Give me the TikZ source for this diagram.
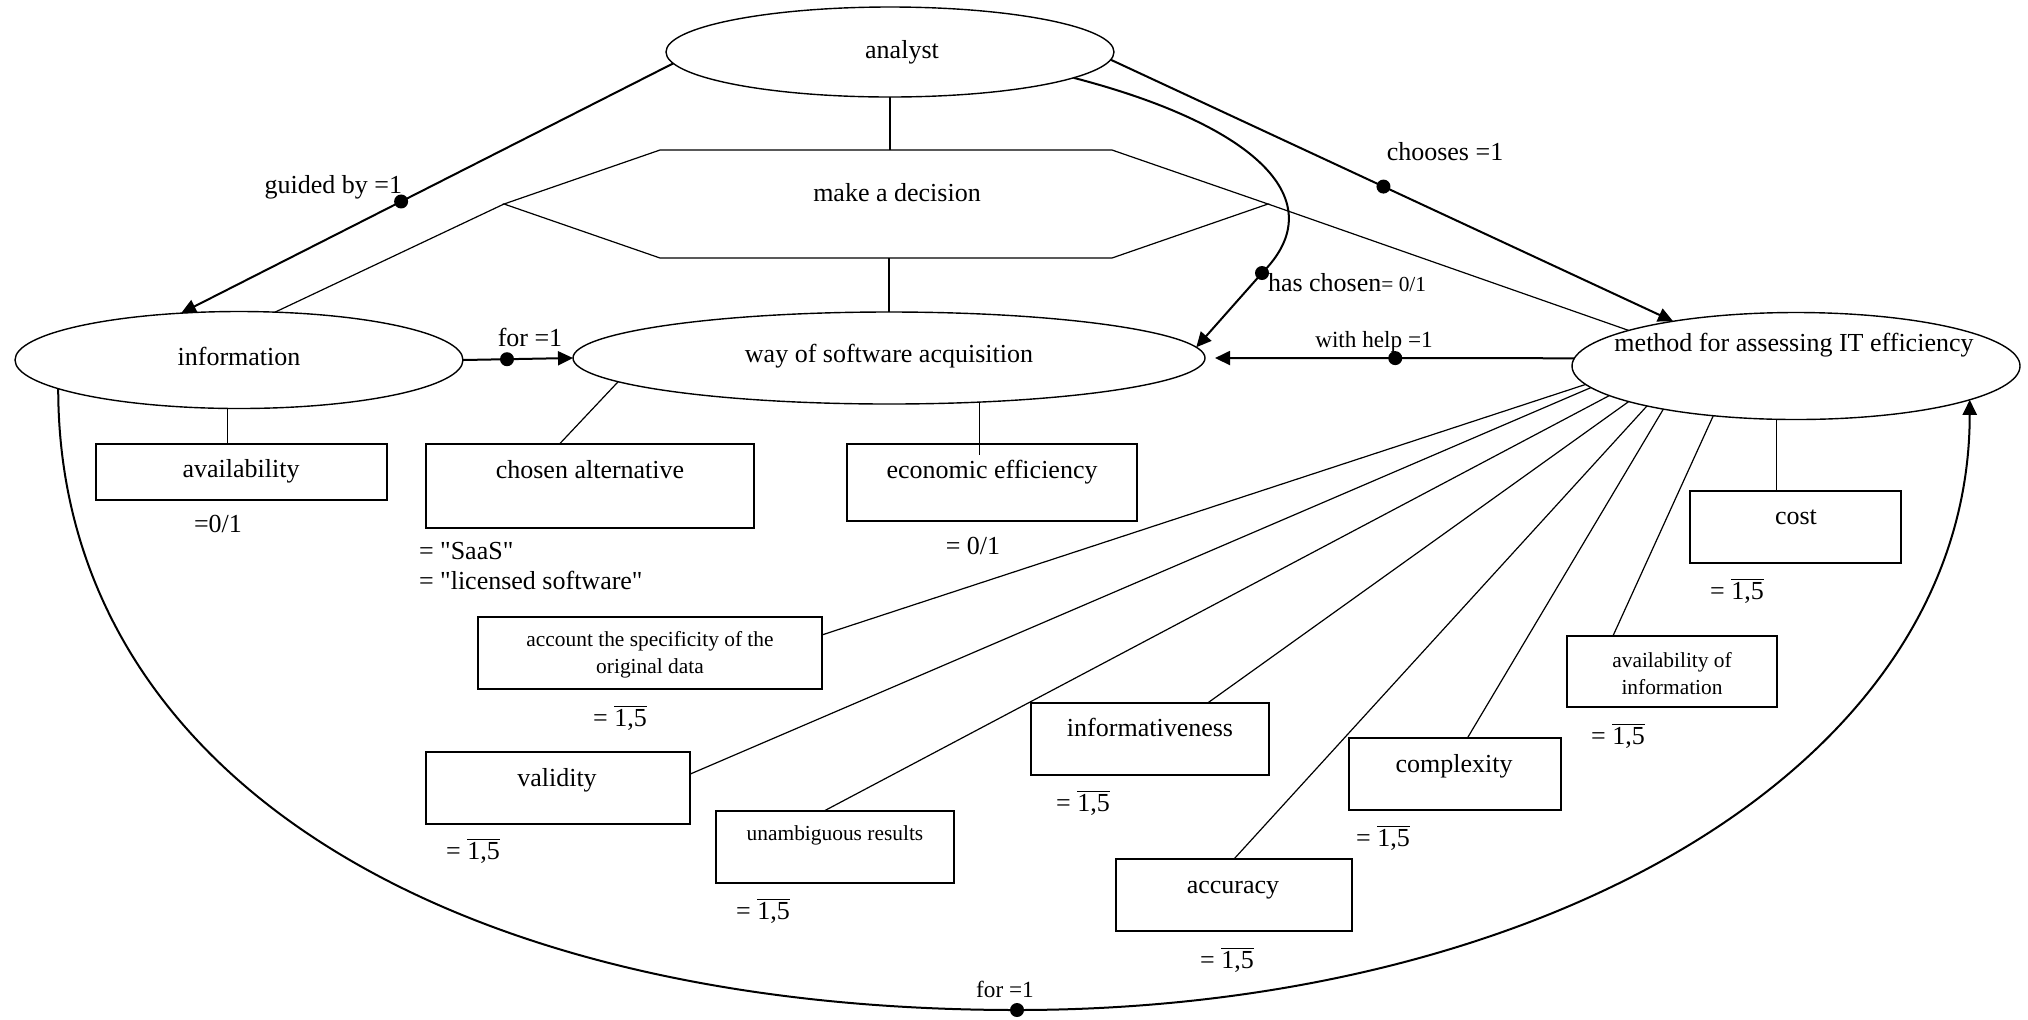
\documentclass[tikz,border=0pt]{standalone}
\usepackage{fontspec}
\setmainfont{Liberation Serif}[Ligatures=TeXOff]
\usetikzlibrary{arrows.meta,shapes.geometric}
\newcommand\onefive{= $\overline{\mbox{1,5}}$}
\begin{document}
\begin{tikzpicture}[x=0.5pt,y=-0.5pt,
  every node/.style={inner sep=0pt, outer sep=0pt},
  ell/.style={draw, line width=0.7pt, ellipse},
  rbox/.style={draw, line width=0.7pt, rectangle},
  txt/.style={font=\fontsize{13}{15}\selectfont, text height=9pt, text depth=3pt},
  stxt/.style={font=\fontsize{10.7}{13.5}\selectfont, align=center},
  mtxt/.style={font=\fontsize{11.6}{14}\selectfont, text height=8pt, text depth=2.6pt},
  rel/.style={line width=1pt, -{Triangle[length=7.5pt,width=7pt]}},
  lnk/.style={line width=0.6pt},
  reldot/.style={circle, fill, minimum size=7pt, inner sep=0pt},
]
\useasboundingbox (0,0) rectangle (2028,1019);

% main concept nodes
\node[ell, minimum width=224pt, minimum height=45pt] (analyst) at (890,52) {};
\node[txt] (analystT) at (902,52) {analyst};
\node[minimum width=382pt, minimum height=54pt] (dec) at (886,204) {};
\draw[lnk] (dec.west) -- ([xshift=78pt]dec.north west) -- ([xshift=-78pt]dec.north east) -- (dec.east) -- ([xshift=-78pt]dec.south east) -- ([xshift=78pt]dec.south west) -- cycle;
\node[txt] (decT) at (897,195) {make a decision};
\node[ell, minimum width=224pt, minimum height=48.5pt] (info) at (239,360) {};
\node[txt] (infoT) at (239,359) {information};
\node[ell, minimum width=316pt, minimum height=46pt] (way) at (889,358) {};
\node[txt] (wayT) at (889,356) {way of software acquisition};
\node[ell, minimum width=224pt, minimum height=53.5pt] (method) at (1796,366) {};
\node[txt] (methodT) at (1794,345) {method for assessing IT efficiency};

% attribute boxes
\node[rbox, minimum width=145.5pt, minimum height=28pt] (avail) at (241.5,472) {};
\node[txt] (availT) at (241,471) {availability};
\node[rbox, minimum width=164pt, minimum height=42pt] (chosen) at (590,486) {};
\node[txt] (chosenT) at (590,472) {chosen alternative};
\node[rbox, minimum width=145pt, minimum height=38.5pt] (econ) at (992,482.5) {};
\node[txt] (econT) at (992,472) {economic efficiency};
\node[rbox, minimum width=105.5pt, minimum height=36pt] (cost) at (1795.5,527) {};
\node[txt] (costT) at (1796,518) {cost};
\node[rbox, minimum width=105pt, minimum height=35.5pt] (availinfo) at (1672,671.5) {};
\node[stxt] (availinfoT) at (1672,674) {availability of\\information};
\node[rbox, minimum width=106pt, minimum height=36pt] (complexity) at (1455,774) {};
\node[txt] (complexityT) at (1454,766) {complexity};
\node[rbox, minimum width=118pt, minimum height=36pt] (accuracy) at (1234,895) {};
\node[txt] (accuracyT) at (1233,887) {accuracy};
\node[rbox, minimum width=119pt, minimum height=36pt] (inform) at (1150,739) {};
\node[txt] (informT) at (1150,730) {informativeness};
\node[rbox, minimum width=119pt, minimum height=36pt] (unamb) at (835,847) {};
\node[stxt, text height=7.5pt, text depth=2.5pt] (unambT) at (835,835) {unambiguous results};
\node[rbox, minimum width=132pt, minimum height=36pt] (validity) at (558,788) {};
\node[txt] (validityT) at (557,780) {validity};
\node[rbox, minimum width=172pt, minimum height=36pt] (account) at (650,653) {};
\node[stxt] (accountT) at (650,655) {account the specificity of the\\original data};

% plain links
\draw[lnk] (analyst.south) -- (analyst.south |- dec.north);
\draw[lnk] (way.north |- dec.south) -- (way.north);
\draw[lnk] (dec.west) -- (info.53.3);
\draw[lnk] (dec.east) -- (method.168);
\draw[lnk] (info.-103) -- (info.-103 |- avail.north);
\draw[lnk] (way.185.5) -- (chosen.126.4);
\draw[lnk] (way.-26.6) -- ([yshift=-5.5pt]way.-26.6 |- econ.north);
\draw[lnk] (method.-110) -- (method.-110 |- cost.north);
\draw[lnk] (method.185.1) -- (account.6.3);
\draw[lnk] (method.186.6) -- (validity.6);
\draw[lnk] (method.189.8) -- (unamb.107);
\draw[lnk] (method.192.1) -- (inform.32.3);
\draw[lnk] (method.195.5) -- (accuracy.north);
\draw[lnk] (method.198.1) -- (complexity.71.6);
\draw[lnk] (method.211.2) -- (availinfo.149);

% relations
\draw[rel] (analyst.183) -- node[reldot, pos=.553] (d1) {} (info.141.3);
\node[txt, anchor=east] (l1) at (402,187) {guided by =1};
\draw[rel] (analyst.-2.6) -- node[reldot, pos=.485] (d2) {} (method.160);
\node[txt] (l2) at (1445,154) {chooses =1};
\coordinate (hcj) at (1262,273);
\draw[rel] (analyst.-8) .. controls (1255,125) and (1335,200) .. (hcj) node[reldot] (d3) {} -- (way.2);
\node[txt, anchor=west] (l3) at (1268,285) {has chosen{\fontsize{10.7}{13}\selectfont= 0/1}};
\draw[rel, shorten >=5pt] (method.178) -- node[reldot, pos=.485] (d4) {} (way.east);
\node[mtxt] (l4) at (1374,342) {with help =1};
\draw[rel] (info.east) -- node[reldot, pos=.4] (d5) {} (way.west);
\node[txt] (l5) at (530,340) {for =1};
\coordinate (bot) at (1017,1010);
\draw[rel] (info.189.4) .. controls +(0,380) and +(-580,0) .. (bot) node[reldot] (d6) {} .. controls +(520,0) and +(0,370) .. (method.-11.2);
\node[mtxt] (l6) at (1005,992) {for =1};

% values
\node[txt] (v1) at (218,526) {=0/1};
\node[txt, anchor=west] (v2) at (419,553) {= "SaaS"};
\node[txt, anchor=west] (v3) at (419,583) {= "licensed software"};
\node[txt] (v4) at (973,548) {= 0/1};
\node[txt] (v5) at (620,720) {\onefive};
\node[txt] (v6) at (473,853) {\onefive};
\node[txt] (v7) at (763,913) {\onefive};
\node[txt] (v8) at (1083,805) {\onefive};
\node[txt] (v9) at (1227,962) {\onefive};
\node[txt] (v10) at (1383,840) {\onefive};
\node[txt] (v11) at (1618,738) {\onefive};
\node[txt] (v12) at (1737,593) {\onefive};
\end{tikzpicture}
\end{document}
